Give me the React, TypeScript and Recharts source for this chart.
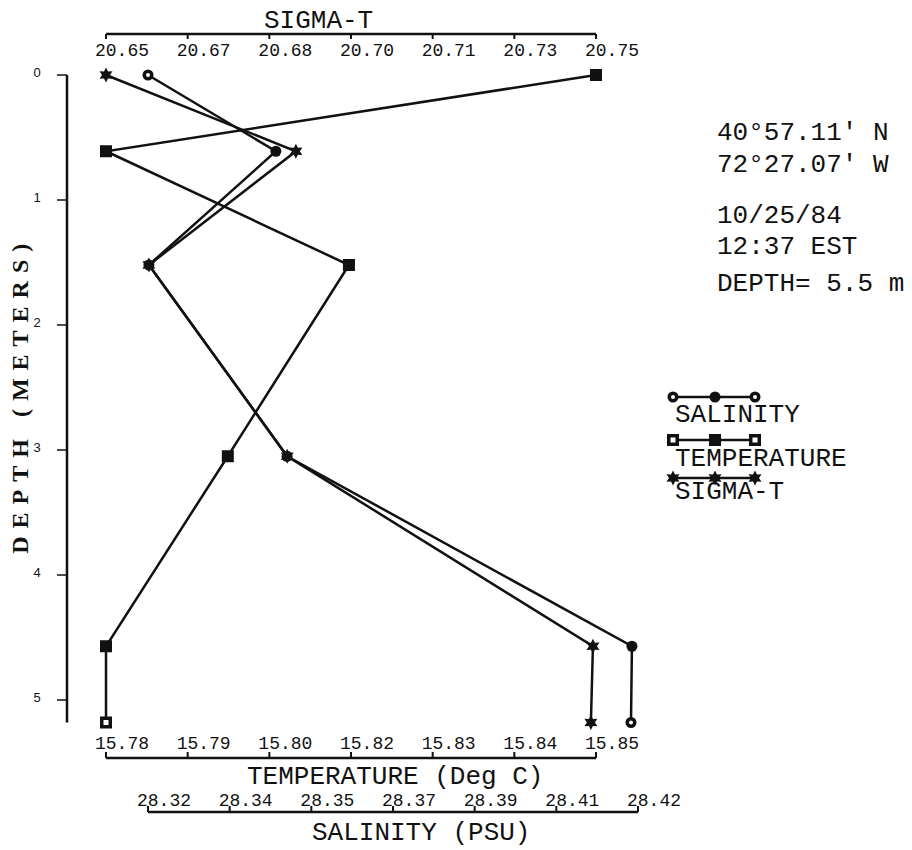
import React from "react";
import { Legend, Scatter, ScatterChart, XAxis, YAxis } from "recharts";

// depths of the casts (m) and the three profiles read at them
const DEPTHS = [0, 0.61, 1.52, 3.05, 4.57, 5.18];
const SALINITY = [28.318, 28.3454, 28.3182, 28.3478, 28.4217, 28.4215];
const TEMPERATURE = [15.852, 15.78, 15.8157, 15.7979, 15.78, 15.78];
const SIGMA_T = [20.65, 20.6872, 20.6584, 20.6855, 20.7454, 20.745];

const DEPTH_TICKS = [0, 1, 2, 3, 4, 5];
const SIGMA_TICKS = [20.65, 20.666, 20.682, 20.698, 20.714, 20.73, 20.746];
const SIGMA_LABELS = ["20.65", "20.67", "20.68", "20.70", "20.71", "20.73", "20.75"];
const TEMP_TICKS = [15.78, 15.792, 15.804, 15.816, 15.828, 15.84, 15.852];
const TEMP_LABELS = ["15.78", "15.79", "15.80", "15.82", "15.83", "15.84", "15.85"];
const SAL_TICKS = [28.318, 28.3355, 28.353, 28.3705, 28.388, 28.4055, 28.423];
const SAL_LABELS = ["28.32", "28.34", "28.35", "28.37", "28.39", "28.41", "28.42"];

const STATION_NOTES = ["40°57.11′ N", "72°27.07′ W", "10/25/84", "12:37 EST", "DEPTH= 5.5 m"];
const LEGEND_ORDER = ["SALINITY", "TEMPERATURE", "SIGMA-T"];

const MONO = '"Liberation Mono", "DejaVu Sans Mono", monospace';
const SERIF = '"Liberation Serif", "DejaVu Serif", serif';
const INK = "#111";

// every x axis spans 490px between its first and last tick
const TICK_STEP = 490 / 6;

type Kind = "circle" | "square" | "star";

function Marker({ cx, cy, kind, open }: { cx: number; cy: number; kind: Kind; open?: boolean }) {
    if (cx == null || cy == null) return null;
    if (kind === "circle") {
        return (
            <g>
                <circle cx={cx} cy={cy} r={5.5} fill={INK} />
                {open && <circle cx={cx} cy={cy} r={2} fill="#fff" />}
            </g>
        );
    }
    if (kind === "square") {
        return (
            <g>
                <rect x={cx - 6} y={cy - 6} width={12} height={12} fill={INK} />
                {open && <rect x={cx - 2.5} y={cy - 2.5} width={5} height={5} fill="#fff" />}
            </g>
        );
    }
    const pts: string[] = [];
    for (let i = 0; i < 12; i++) {
        const r = i % 2 === 0 ? 7.5 : 4;
        const a = (Math.PI / 6) * i - Math.PI / 2;
        pts.push(`${cx + r * Math.cos(a)},${cy + r * Math.sin(a)}`);
    }
    return <polygon points={pts.join(" ")} fill={INK} />;
}

const shapeFor = (kind: Kind, openAt: number[]) => (props: any) => (
    <Marker
        cx={props.cx}
        cy={props.cy}
        kind={kind}
        open={openAt.includes(props.payload?.depth)}
    />
);

interface AxisDeco {
    labels: string[];
    side: "top" | "bottom";
    lineDy: number;
    labelDy: number;
    title: string;
    titleDx: number;
    titleDy: number;
}

function makeXTick(deco: AxisDeco) {
    return function XTick(props: any) {
        const { x, y, index } = props;
        const lineY = y + deco.lineDy;
        const tickEnd = deco.side === "top" ? lineY + 5 : lineY - 6;
        return (
            <g>
                {index === 0 && (
                    <g>
                        <line
                            x1={x}
                            x2={x + TICK_STEP * (deco.labels.length - 1)}
                            y1={lineY}
                            y2={lineY}
                            stroke={INK}
                            strokeWidth={2.5}
                        />
                        <text
                            x={x + deco.titleDx}
                            y={y + deco.titleDy}
                            fontSize={26}
                            fontFamily={MONO}
                            fill={INK}
                        >
                            {deco.title}
                        </text>
                    </g>
                )}
                <line x1={x} x2={x} y1={lineY} y2={tickEnd} stroke={INK} strokeWidth={2} />
                <text
                    x={x - 11}
                    y={y + deco.labelDy}
                    fontSize={18}
                    fontFamily={MONO}
                    fill={INK}
                >
                    {deco.labels[index]}
                </text>
            </g>
        );
    };
}

const SigmaTick = makeXTick({
    labels: SIGMA_LABELS,
    side: "top",
    lineDy: -41,
    labelDy: -19,
    title: "SIGMA-T",
    titleDx: 158,
    titleDy: -47,
});
const TempTick = makeXTick({
    labels: TEMP_LABELS,
    side: "bottom",
    lineDy: 35.5,
    labelDy: 26.5,
    title: "TEMPERATURE (Deg C)",
    titleDx: 141,
    titleDy: 61.5,
});
const SalTick = makeXTick({
    labels: SAL_LABELS,
    side: "bottom",
    lineDy: 34.5,
    labelDy: 28.5,
    title: "SALINITY (PSU)",
    titleDx: 164,
    titleDy: 62.5,
});

function DepthTick(props: any) {
    const { x, y, payload } = props;
    return (
        <text
            x={x - 20}
            y={y - 3}
            textAnchor="middle"
            dominantBaseline="central"
            fontSize={13}
            fontFamily='"Liberation Sans", sans-serif'
            fill={INK}
        >
            {payload.value}
        </text>
    );
}

function DepthLabel(props: any) {
    const vb = props.viewBox ?? { x: 27, y: 75, width: 40, height: 647.5 };
    const cx = vb.x - 7;
    const cy = vb.y + vb.height / 2 - 4;
    return (
        <text
            x={cx}
            y={cy}
            transform={`rotate(-90 ${cx} ${cy})`}
            textAnchor="middle"
            dominantBaseline="central"
            fontSize={24}
            fontWeight="bold"
            letterSpacing={8}
            fontFamily={SERIF}
            fill={INK}
        >
            DEPTH (METERS)
        </text>
    );
}

const LEGEND_KIND: Record<string, Kind> = {
    SALINITY: "circle",
    TEMPERATURE: "square",
    "SIGMA-T": "star",
};

function LegendBox({ payload }: any) {
    const names = LEGEND_ORDER.filter((n) =>
        (payload ?? []).some((p: any) => p.value === n)
    );
    const lineY = [17, 60, 98];
    const textY = [42, 86, 119];
    return (
        <svg width={250} height={130} style={{ overflow: "visible" }}>
            {names.map((name, i) => {
                const kind = LEGEND_KIND[name];
                const openEnds = kind !== "star";
                return (
                    <g key={name}>
                        <line x1={13} x2={95} y1={lineY[i]} y2={lineY[i]} stroke={INK} strokeWidth={2.5} />
                        <Marker cx={13} cy={lineY[i]} kind={kind} open={openEnds} />
                        <Marker cx={55} cy={lineY[i]} kind={kind} />
                        <Marker cx={95} cy={lineY[i]} kind={kind} open={openEnds} />
                        <text x={15} y={textY[i]} fontSize={26} fontFamily={MONO} fill={INK}>
                            {name}
                        </text>
                    </g>
                );
            })}
        </svg>
    );
}

const salinityData = DEPTHS.map((depth, i) => ({ depth, value: SALINITY[i] }));
const temperatureData = DEPTHS.map((depth, i) => ({ depth, value: TEMPERATURE[i] }));
const sigmaData = DEPTHS.map((depth, i) => ({ depth, value: SIGMA_T[i] }));

const lastDepth = DEPTHS[DEPTHS.length - 1];
const lineStyle = { stroke: INK, strokeWidth: 2.5 };

export default function App() {
    return (
        <div style={{ position: "absolute", left: 0, top: 0, width: 912, height: 850, background: "#fff" }}>
            <ScatterChart
                width={912}
                height={850}
                margin={{ top: 0, right: 272, bottom: 0, left: 27 }}
            >
                <XAxis
                    xAxisId="sigma"
                    orientation="top"
                    type="number"
                    dataKey="value"
                    domain={[SIGMA_TICKS[0], SIGMA_TICKS[SIGMA_TICKS.length - 1]]}
                    ticks={SIGMA_TICKS}
                    interval={0}
                    padding={{ left: 39, right: 44 }}
                    height={75}
                    axisLine={false}
                    tickLine={false}
                    tickSize={0}
                    tickMargin={0}
                    tick={SigmaTick}
                />
                <XAxis
                    xAxisId="sal"
                    orientation="bottom"
                    type="number"
                    dataKey="value"
                    domain={[SAL_TICKS[0], SAL_TICKS[SAL_TICKS.length - 1]]}
                    ticks={SAL_TICKS}
                    interval={0}
                    padding={{ left: 81, right: 2 }}
                    height={72.5}
                    axisLine={false}
                    tickLine={false}
                    tickSize={0}
                    tickMargin={0}
                    tick={SalTick}
                />
                <XAxis
                    xAxisId="atemp"
                    orientation="bottom"
                    type="number"
                    dataKey="value"
                    domain={[TEMP_TICKS[0], TEMP_TICKS[TEMP_TICKS.length - 1]]}
                    ticks={TEMP_TICKS}
                    interval={0}
                    padding={{ left: 39, right: 44 }}
                    height={55}
                    axisLine={false}
                    tickLine={false}
                    tickSize={0}
                    tickMargin={0}
                    tick={TempTick}
                />
                <YAxis
                    type="number"
                    dataKey="depth"
                    reversed
                    domain={[0, lastDepth]}
                    ticks={DEPTH_TICKS}
                    interval={0}
                    width={40}
                    axisLine={{ stroke: INK, strokeWidth: 2.5 }}
                    tickLine={{ stroke: INK, strokeWidth: 1.5 }}
                    tickSize={10}
                    tickMargin={0}
                    tick={DepthTick}
                    label={<DepthLabel />}
                />
                <Legend
                    layout="horizontal"
                    verticalAlign="middle"
                    align="center"
                    content={<LegendBox />}
                    wrapperStyle={{ left: 660, top: 380, width: 250, height: 130 }}
                />
                <Scatter
                    name="SALINITY"
                    xAxisId="sal"
                    data={salinityData}
                    fill={INK}
                    line={lineStyle}
                    lineType="joint"
                    shape={shapeFor("circle", [0, lastDepth])}
                    isAnimationActive={false}
                />
                <Scatter
                    name="TEMPERATURE"
                    xAxisId="atemp"
                    data={temperatureData}
                    fill={INK}
                    line={lineStyle}
                    lineType="joint"
                    shape={shapeFor("square", [lastDepth])}
                    isAnimationActive={false}
                />
                <Scatter
                    name="SIGMA-T"
                    xAxisId="sigma"
                    data={sigmaData}
                    fill={INK}
                    line={lineStyle}
                    lineType="joint"
                    shape={shapeFor("star", [])}
                    isAnimationActive={false}
                />
            </ScatterChart>
            <svg
                width={912}
                height={850}
                style={{ position: "absolute", left: 0, top: 0, pointerEvents: "none" }}
            >
                {STATION_NOTES.map((note, i) => (
                    <text
                        key={note}
                        x={717}
                        y={[140, 172, 223, 254, 291][i]}
                        fontSize={26}
                        fontFamily={MONO}
                        fill={INK}
                        style={{ whiteSpace: "pre" }}
                    >
                        {note}
                    </text>
                ))}
            </svg>
        </div>
    );
}
